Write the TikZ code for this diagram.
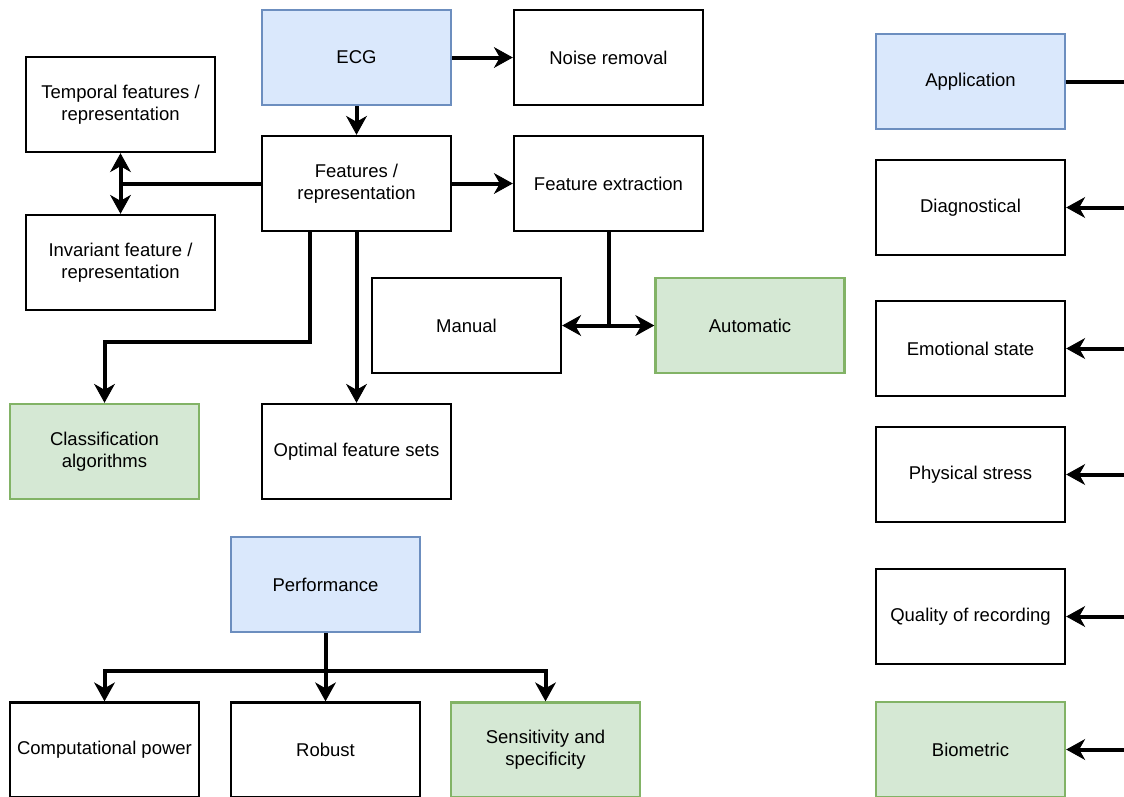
\documentclass[tikz,border=0pt]{standalone}
\usepackage{fontspec}
\setmainfont{Liberation Sans}
\usetikzlibrary{arrows.meta,positioning}
\definecolor{bluefill}{HTML}{DAE8FC}
\definecolor{bluedraw}{HTML}{6C8EBF}
\definecolor{greenfill}{HTML}{D5E8D4}
\definecolor{greendraw}{HTML}{82B366}
\tikzset{
  box/.style={draw=black, line width=2.4pt, fill=white, minimum width=189pt, minimum height=95pt,
    align=center, inner sep=2pt, font=\fontsize{18.5pt}{22pt}\selectfont},
  bluebox/.style={box, draw=bluedraw, fill=bluefill},
  greenbox/.style={box, draw=greendraw, fill=greenfill},
  conn/.style={draw=black, line width=4pt},
  arr/.style={conn, -{Stealth[length=19pt,width=21pt,inset=6pt,line width=1pt]}},
  darr/.style={conn, {Stealth[length=19pt,width=21pt,inset=6pt,line width=1pt]}-{Stealth[length=19pt,width=21pt,inset=6pt,line width=1pt]}}
}
\begin{document}
\begin{tikzpicture}[x=1pt,y=-1pt]
\useasboundingbox (0,0) rectangle (1124,796);
\fill[white] (0,0) rectangle (1124,796);
\clip (0,0) rectangle (1124,796);

% top-left cluster
\node[bluebox] (ecg) at (356.5,57.5) {ECG};
\node[box] (noise) at (608.5,57.5) {Noise removal};
\node[box] (temporal) at (120.5,104.5) {Temporal features /\\representation};
\node[box] (feat) at (356.5,183.5) {Features /\\representation};
\node[box] (fext) at (608.5,183.5) {Feature extraction};
\node[box] (invariant) at (120.5,262.5) {Invariant feature /\\representation};
\node[box] (manual) at (466.5,325.5) {Manual};
\node[greenbox] (automatic) at (750,325.5) {Automatic};
\node[greenbox] (classif) at (104.5,451.5) {Classification\\algorithms};
\node[box] (optimal) at (356.5,451.5) {Optimal feature sets};

% performance
\node[bluebox] (perf) at (325.5,584.5) {Performance};
\node[box] (comp) at (104.5,750) {Computational power};
\node[box] (robust) at (325.5,750) {Robust};
\node[greenbox] (sens) at (545.5,750) {Sensitivity and\\specificity};

% application
\node[bluebox] (app) at (970.5,81.5) {Application};
\node[box] (diag) at (970.5,207.5) {Diagnostical};
\node[box] (emo) at (970.5,348.5) {Emotional state};
\node[box] (phys) at (970.5,474.5) {Physical stress};
\node[box] (qual) at (970.5,616.5) {Quality of recording};
\node[greenbox] (bio) at (970.5,749.5) {Biometric};

% junction coordinates
\coordinate (jl) at (120.5,183.5);
\coordinate (jm) at (608.5,325.5);
\coordinate (jp) at (325.5,671);
\coordinate (bus) at (1150,81.5);

% connectors
\draw[arr] (ecg) -- (noise);
\draw[arr] (ecg) -- (feat);
\draw[arr] (feat) -- (fext);
\draw[conn] (feat.west) -- (jl);
\draw[darr] (temporal.south) -- (invariant.north);
\draw[conn] (fext.south) -- (jm);
\draw[arr] (jm) -- (manual.east);
\draw[arr] (jm) -- (automatic.west);
\draw[arr] ([xshift=-46.5pt]feat.south) -- ++(0,110) -| (classif.north);
\draw[arr] (feat.south) -- (optimal.north);

\draw[conn] (perf.south) -- (jp);
\draw[arr] (jp) -| (comp.north);
\draw[arr] (jp) -- (robust.north);
\draw[arr] (jp) -| (sens.north);

\draw[conn] (app.east) -- (bus);
\draw[arr] (diag.east -| bus) -- (diag.east);
\draw[arr] (emo.east -| bus) -- (emo.east);
\draw[arr] (phys.east -| bus) -- (phys.east);
\draw[arr] (qual.east -| bus) -- (qual.east);
\draw[arr] (bio.east -| bus) -- (bio.east);
\end{tikzpicture}
\end{document}
